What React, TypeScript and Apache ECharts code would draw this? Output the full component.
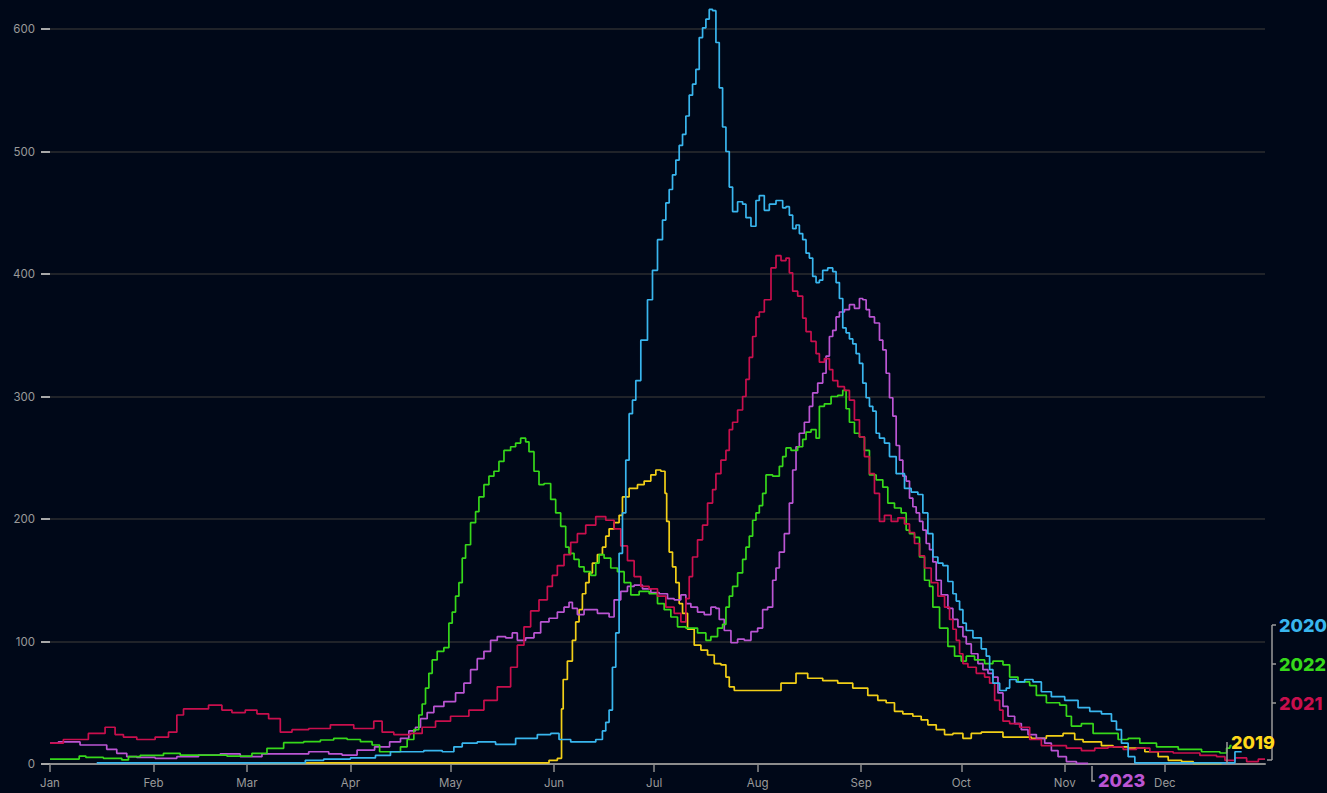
import React, { useEffect, useRef } from "react";
import * as echarts from "echarts";

// x = day of year (0 = Jan 1), y = value
const monthStarts = [0, 31, 59, 90, 120, 151, 181, 212, 243, 273, 304, 334];
const monthNames = ["Jan", "Feb", "Mar", "Apr", "May", "Jun", "Jul", "Aug", "Sep", "Oct", "Nov", "Dec"];
const yTicks = [0, 100, 200, 300, 400, 500, 600];

const s2019: number[][] = [
  [63,1],[148,1],[151,3],[153,4.6],[153.5,45],[154,69],[156,84],[157,101],[158,116],[159,126],[160,139],[161,148],[162,156],[163,164],[165,171],[166,177],[167,186],[168,192],[170,197],[171,203],[172,218],[175,225],[177,228],[179,231],[181,236],[182,240],[184,239],[184.5,221],[185,198],[186,173],[187,161],[188,148],[189,131],[190,123],[192,110],[194,97],[196,93],[198,89],[200,82],[202,81],[203,71],[204,63],[206,60],[216,60],[222,66],[225,74],[229,70],[234,68],[238,66],[243,62],[247,56],[249,52],[252,50],[254,43],[257,41],[260,39],[262,36],[264,32],[267,28],[269,24],[272,25],[275,21],[277,25],[281,26],[284,26],[287,22],[292,22],[296,21],[301,23],[306,25],[308,20],[311,18],[314,18],[316,15],[321,14],[325,13],[331,10],[333,6],[337,3],[341,2],[344,0.5],[351,0.5]
];

const s2020: number[][] = [
  [14,1],[75,1],[78,3],[86,4],[94,5],[101,7],[103,10],[109,10],[115,11],[120,10],[122,14],[125,17],[131,18],[136,16],[143,21],[149,24],[151,25],[154,20],[158,18],[162,18],[165,20],[166,27],[167,34],[168,44],[169,79],[170,107],[171,172],[172,205],[173,248],[174,286],[175,297],[176,313],[178,346],[180,379],[181,403],[183,428],[184,444],[185,458],[186,469],[187,481],[188,493],[189,505],[190,514],[191,529],[192,546],[193,555],[194,567],[195,593],[196,601],[197,608],[198,616],[199,615],[200,589],[201,552],[202,520],[203,500],[204,471],[205,451],[207,459],[208,457],[209,446],[211,439],[212,460],[213,464],[215,452],[216,457],[219,460],[220,454],[221,455],[222,448],[223,437],[224,440],[225,433],[226,428],[227,417],[228,413],[229,398],[230,393],[231,395],[232,403],[234,405],[235,402],[236,393],[237,380],[238,356],[239,352],[240,347],[241,343],[242,335],[243,327],[244,311],[245,299],[246,292],[247,288],[248,270],[249,266],[251,262],[252,251],[255,237],[257,225],[259,222],[261,220],[262,205],[264,188],[265,169],[267,164],[268,162],[270,149],[271,139],[272,133],[273,126],[274,115],[275,109],[278,103],[280,94],[281,88],[282,77],[283,66],[286,60],[287,62],[288,69],[291,67],[293,69],[296,67],[298,59],[302,55],[306,52],[310,46],[313,43],[317,41],[319,35],[320,28],[322,17],[324,6],[326,1],[354,1],[356,10],[357,10]
];

const s2021: number[][] = [
  [0,17],[8,20],[15,25],[18,30],[21,24],[23,22],[29,20],[34,22],[37,26],[39,40],[41,45],[44,45],[51,48],[52,44],[57,42],[60,44],[64,41],[67,37],[71,26],[74,28],[81,29],[87,32],[95,29],[99,35],[100,26],[106,24],[110,25],[113,30],[118,35],[122,39],[129,44],[131,52],[137,63],[139,79],[141,97],[143,112],[145,125],[148,134],[150,145],[151,154],[153,162],[155,171],[157,181],[159,188],[162,195],[165,202],[168,199],[170,192],[172,178],[174,166],[176,153],[178,145],[181,143],[183,137],[186,128],[188,123],[190,116],[191,135],[192,153],[193,169],[195,183],[196,195],[198,213],[199,224],[200,237],[202,248],[203,256],[204,273],[205,279],[207,289],[208,300],[209,314],[210,332],[211,349],[212,365],[213,369],[215,379],[217,405],[218,415],[220,411],[221,413],[222,401],[223,386],[225,382],[226,364],[227,353],[229,345],[230,335],[231,328],[233,331],[234,322],[235,313],[237,308],[239,305],[240,297],[242,281],[243,267],[245,251],[246,237],[248,221],[249,198],[251,203],[253,198],[255,201],[257,196],[258,189],[260,180],[261,170],[263,160],[265,148],[267,137],[269,128],[270,118],[271,110],[272,101],[273,90],[274,82],[276,79],[279,74],[281,71],[282,66],[284,52],[285,44],[286,35],[289,33],[292,30],[295,20],[299,15],[302,15],[307,13],[311,11],[315,13],[319,14],[324,12],[327,13],[332,10],[341,9],[348,7],[351,6],[353,3],[357,5],[360,2],[364,4]
];

const s2022: number[][] = [
  [0,4],[8,4],[9.5,6.5],[12,5.4],[20,4.6],[23,3.3],[24,6],[30,7],[38,8.7],[40,7.3],[48,7.3],[58,6.5],[63,8.7],[67,12.8],[73,17.4],[79,18.2],[83,19.6],[87,21],[91,20],[95,18.2],[98,15.5],[99.5,10],[104,10],[106,14],[108,20],[110,28],[111,40],[112,49],[113,62],[114,74],[115,85],[117,92],[119,95],[120,115],[121,124],[122,137],[123,148],[124,168],[125,179],[127,197],[128,206],[129,218],[131,228],[132,235],[134,239],[135,247],[137,256],[139,259],[140,262],[142,266],[143,263],[144,255],[146,239],[147,228],[149,229],[151,216],[152,205],[154,194],[155,177],[156,172],[158,167],[159,161],[161,157],[163,154],[164,164],[165,171],[167,168],[169,160],[171,157],[173,148],[175,138],[178,141],[181,139],[183,131],[185,126],[187,120],[189,112],[192,111],[196,107],[197,101],[199,104],[201,111],[202,114],[203,128],[204,137],[205,145],[207,156],[208,167],[209,177],[210,186],[211,199],[212,205],[213,211],[214,221],[215,236],[218,235],[219,243],[220,251],[221,258],[223,256],[225,259],[226,265],[227,271],[229,273],[230,266],[231,292],[233,294],[235,300],[237,301],[238,305],[239,290],[240,279],[242,270],[243,267],[245,256],[246,236],[249,232],[250,226],[252,213],[254,209],[256,205],[257,191],[258,188],[260,185],[261,169],[263,150],[264,145],[265,128],[268,111],[270,96],[272,88],[274,84],[275,88],[279,85],[281,82],[284,84],[287,81],[288,71],[292,67],[295,64],[296,56],[301,50],[304,48],[305,39],[307,31],[311,33],[314,25],[319,25],[321,20],[325,21],[328,17],[335,14],[341,12],[349,10],[352,9],[353,13],[354,15]
];

const s2023: number[][] = [
  [0,17],[5,18],[8,18],[10,15.5],[16,15.5],[18,12],[22,8.7],[24,6],[28,5.4],[35,4.6],[41,6],[48,7.3],[54,8.2],[60,6],[67,8.2],[74,8.2],[81,10],[86,8.2],[89,7.3],[95,11.4],[99.5,14],[104,18],[106,21],[109,27],[110,30],[112,37],[114,42],[116,47],[120,51],[123,58],[125,66],[127,77],[129,86],[131,92],[133,101],[135,104],[138,103],[139,107],[141,101],[144,103],[146,107],[148,116],[151,119],[153,124],[155,128],[156,132],[157,127],[159,122],[161,126],[163,126],[165,123],[167,123],[168,120],[170,134],[172,141],[174,145],[176,146],[179,143],[181,140],[184,139],[186,135],[188,134],[190,138],[191,131],[193,128],[195,124],[197,122],[199,128],[200,127],[201,118],[203,109],[205,99],[207,102],[209,101],[211,108],[213,111],[214,126],[216,128],[217,150],[218,160],[219,173],[221,188],[222,213],[223,240],[224,259],[225,270],[227,279],[228,292],[229,303],[231,311],[232,319],[233,333],[234,349],[235,354],[236,365],[237,369],[239,371],[240,375],[242,372],[243,380],[244,379],[245,371],[246,365],[248,360],[249,346],[250,338],[251,319],[252,299],[253,284],[254,260],[255,248],[256,235],[257,231],[258,217],[259,210],[260,205],[261,198],[262,191],[263,180],[264,175],[265,165],[266,150],[268,138],[270,127],[271,118],[273,112],[274,104],[275,98],[277,90],[279,82],[280,77],[282,74],[283,71],[285,58],[286,47],[288,39],[290,33],[292,28],[294,24],[297,21],[299,17],[301,11],[303,6],[306,2],[309,0.5],[311,0.5]
];

const seriesNames = ["2019", "2023", "2022", "2021", "2020"];
const seriesData = [s2019, s2023, s2022, s2021, s2020];
const seriesColors = ["#f2cf17", "#bb55d3", "#36d81a", "#c90f4d", "#39b6ee"];

const BG = "#000818";

export default function App() {
  const ref = useRef<HTMLDivElement>(null);

  useEffect(() => {
    document.body.style.margin = "0";
    document.body.style.background = BG;
    const chart = echarts.init(ref.current!, undefined, { renderer: "svg" });

    const labelFont = "800 18px Inter, 'Noto Sans', sans-serif";
    const lineStyle = { stroke: "#9a9a9a", lineWidth: 1.5, fill: null as any };

    chart.setOption({
      animation: false,
      backgroundColor: BG,
      grid: { left: 50, right: 62, top: 29, bottom: 29, containLabel: false },
      xAxis: {
        type: "value",
        min: 0,
        max: 364,
        axisLine: { show: true, lineStyle: { color: "#8c8c8c", width: 2 } },
        axisTick: {
          show: true,
          customValues: monthStarts,
          length: 8,
          lineStyle: { color: "#8c8c8c", width: 1.5 },
        },
        axisLabel: {
          customValues: monthStarts,
          formatter: (v: number) => monthNames[monthStarts.indexOf(v)] ?? "",
          color: "#9a9a9a",
          fontSize: 11.5,
          fontFamily: "Inter, 'Noto Sans', sans-serif",
          margin: 13,
        },
        splitLine: { show: false },
      },
      yAxis: {
        type: "value",
        min: yTicks[0],
        max: yTicks[yTicks.length - 1],
        interval: 100,
        axisLine: { show: false },
        axisTick: { show: true, length: 9, lineStyle: { color: "#a8a8a8", width: 2 } },
        axisLabel: {
          color: "#9a9a9a",
          fontSize: 11.5,
          fontFamily: "Inter, 'Noto Sans', sans-serif",
          margin: 15,
        },
        splitLine: { show: true, lineStyle: { color: "#2b2c2f", width: 1.5 } },
      },
      series: seriesNames.map((name, i) => ({
        name,
        type: "line",
        data: seriesData[i],
        step: "middle",
        showSymbol: false,
        symbol: "none",
        clip: false,
        lineStyle: { color: seriesColors[i], width: 1.7 },
        itemStyle: { color: seriesColors[i] },
        z: 2 + i,
      })),
      graphic: [
        { type: "polyline", shape: { points: [[1272, 625], [1272, 760]] }, style: lineStyle, z: 10 },
        { type: "polyline", shape: { points: [[1272, 625], [1276, 625]] }, style: lineStyle, z: 10 },
        { type: "polyline", shape: { points: [[1272, 664], [1276, 664]] }, style: lineStyle, z: 10 },
        { type: "polyline", shape: { points: [[1272, 703], [1276, 703]] }, style: lineStyle, z: 10 },
        { type: "polyline", shape: { points: [[1267, 760], [1272, 760]] }, style: lineStyle, z: 10 },
        { type: "polyline", shape: { points: [[1227, 742], [1227, 764]] }, style: lineStyle, z: 10 },
        { type: "polyline", shape: { points: [[1092, 766], [1092, 781], [1095, 781]] }, style: lineStyle, z: 10 },
        { type: "text", x: 1279, y: 625, style: { text: "2020", fill: seriesColors[4], font: labelFont, textVerticalAlign: "middle" }, z: 10 },
        { type: "text", x: 1279, y: 664, style: { text: "2022", fill: seriesColors[2], font: labelFont, textVerticalAlign: "middle" }, z: 10 },
        { type: "text", x: 1279, y: 703, style: { text: "2021", fill: seriesColors[3], font: labelFont, textVerticalAlign: "middle" }, z: 10 },
        { type: "text", x: 1231, y: 742, style: { text: "2019", fill: "#ffd81a", font: labelFont, textVerticalAlign: "middle" }, z: 10 },
        { type: "text", x: 1098, y: 780, style: { text: "2023", fill: seriesColors[1], font: labelFont, textVerticalAlign: "middle" }, z: 10 },
      ],
    });

    return () => chart.dispose();
  }, []);

  return <div ref={ref} style={{ width: 1327, height: 793 }} />;
}
